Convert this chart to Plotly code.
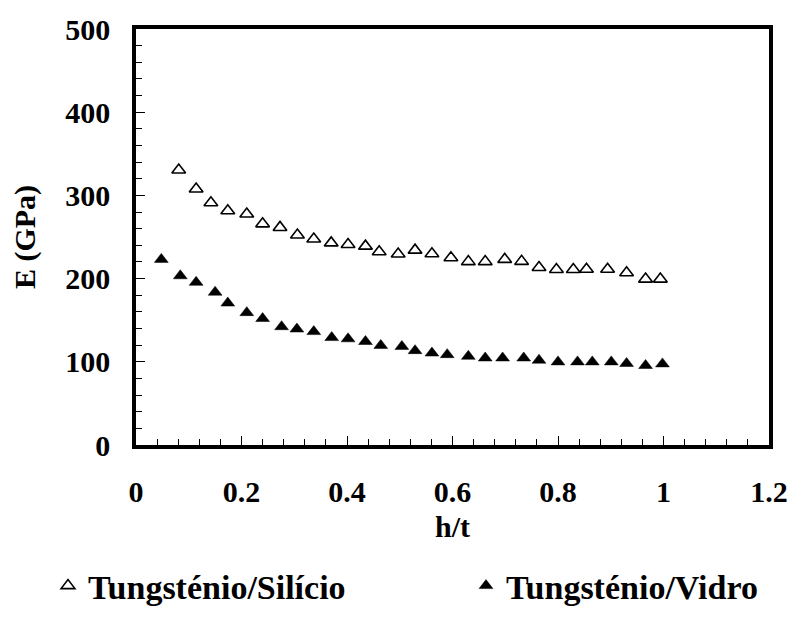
import plotly.graph_objects as go

# h/t ratio and elastic modulus E (GPa) for the two film/substrate systems
h_t_silicio = [0.081, 0.114, 0.142, 0.174, 0.210, 0.240, 0.273, 0.306, 0.337, 0.370,
               0.402, 0.435, 0.461, 0.497, 0.529, 0.561, 0.597, 0.630, 0.662, 0.699,
               0.731, 0.764, 0.797, 0.829, 0.854, 0.894, 0.930, 0.966, 0.994]
e_silicio = [330.6, 307.7, 291.1, 281.6, 277.6, 265.8, 261.5, 252.4, 247.6, 242.9,
             240.9, 239.0, 232.2, 229.5, 234.2, 229.9, 225.1, 220.4, 220.4, 223.1,
             220.7, 213.3, 210.9, 210.9, 211.3, 211.3, 207.0, 199.4, 199.4]

h_t_vidro = [0.048, 0.084, 0.114, 0.150, 0.174, 0.210, 0.240, 0.276, 0.305, 0.337,
             0.371, 0.402, 0.435, 0.464, 0.504, 0.529, 0.561, 0.590, 0.630, 0.662,
             0.695, 0.735, 0.764, 0.800, 0.837, 0.865, 0.901, 0.930, 0.966, 0.998]
e_vidro = [223.1, 203.4, 195.5, 183.6, 170.6, 159.1, 152.0, 142.2, 139.4, 136.3,
           129.1, 127.6, 124.4, 119.7, 118.5, 113.4, 110.5, 108.6, 106.6, 104.6,
           104.6, 104.6, 101.9, 99.9, 99.9, 99.9, 99.9, 98.0, 95.6, 97.5]

series_names = ["Tungsténio/Silício", "Tungsténio/Vidro"]

FONT = "Liberation Serif"
BLACK = "#000000"
TICK_SIZE = 30
LEGEND_SIZE = 34

fig = go.Figure()
fig.add_trace(go.Scatter(
    x=h_t_silicio, y=e_silicio, mode="markers", name=series_names[0],
    legend="legend",
    marker=dict(symbol="triangle-up-open", size=12, color=BLACK,
                line=dict(width=1.6, color=BLACK)),
))
fig.add_trace(go.Scatter(
    x=h_t_vidro, y=e_vidro, mode="markers", name=series_names[1],
    legend="legend2",
    marker=dict(symbol="triangle-up", size=12, color=BLACK,
                line=dict(width=0.5, color=BLACK)),
))

axis_common = dict(
    showline=True, linewidth=3.6, linecolor=BLACK, mirror=True,
    showgrid=False, zeroline=False,
    ticks="inside", tickcolor=BLACK, tickwidth=1.3, ticklen=9,
    tickfont=dict(family=FONT, size=TICK_SIZE, color=BLACK, weight="bold"),
)

fig.update_xaxes(
    range=[0, 1.2], dtick=0.2, tick0=0,
    minor=dict(ticks="inside", dtick=0.04, ticklen=6, tickwidth=1.1, tickcolor=BLACK),
    ticklabelstandoff=17,
    **axis_common,
)
fig.update_yaxes(
    range=[0, 500], dtick=100, tick0=0,
    minor=dict(ticks="inside", dtick=20, ticklen=6, tickwidth=1.1, tickcolor=BLACK),
    ticklabelstandoff=16,
    title=dict(text="<b>E (GPa)</b>", font=dict(family=FONT, size=TICK_SIZE, color=BLACK), standoff=22),
    **axis_common,
)

# x-axis title placed just beneath the tick labels
fig.add_annotation(
    text="<b>h/t</b>", xref="paper", yref="paper", x=0.5, y=(445 - 528) / 422,
    xanchor="center", yanchor="middle", showarrow=False,
    font=dict(family=FONT, size=TICK_SIZE, color=BLACK),
)

legend_common = dict(
    orientation="h", xref="container", yref="container",
    xanchor="left", y=1 - 586 / 621, yanchor="middle",
    font=dict(family=FONT, size=LEGEND_SIZE, color=BLACK, weight="bold"),
    bgcolor="rgba(0,0,0,0)",
)

fig.update_layout(
    width=800, height=621,
    margin=dict(l=136, r=23, t=23, b=176),
    paper_bgcolor="white", plot_bgcolor="white",
    showlegend=True,
    legend=dict(x=48 / 800, **legend_common),
    legend2=dict(x=466 / 800, **legend_common),
)

fig.write_html("out.html")
